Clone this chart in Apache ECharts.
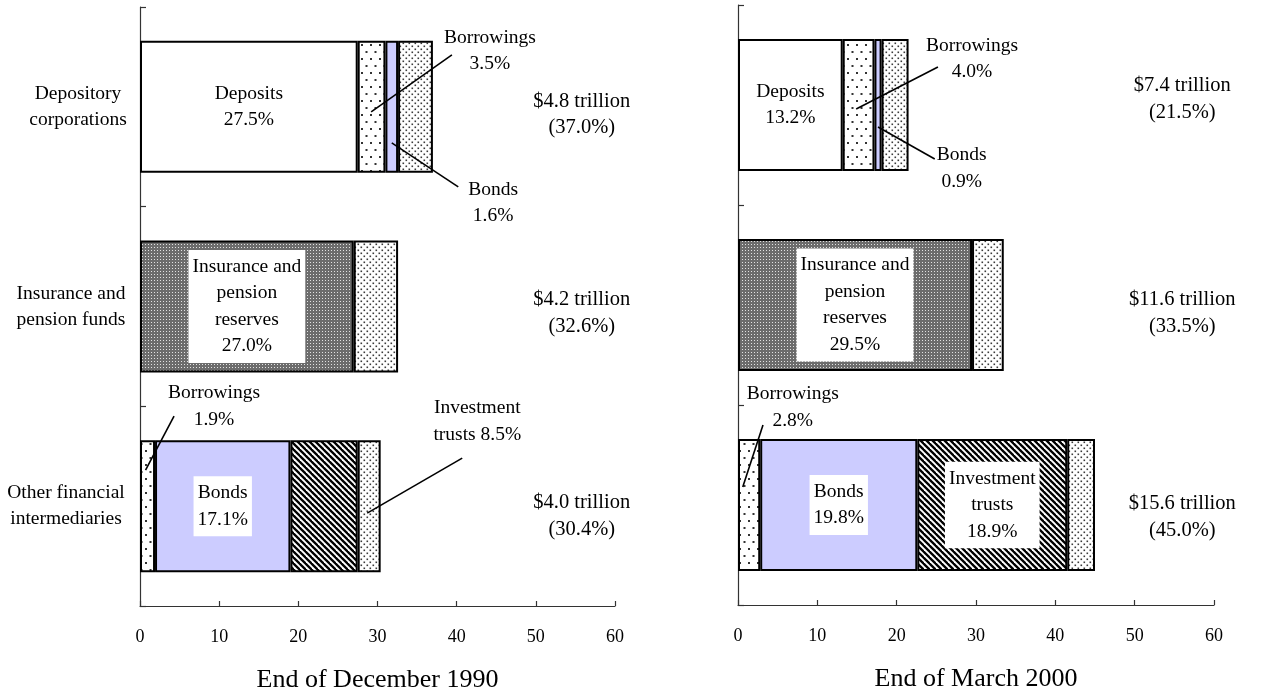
<!DOCTYPE html>
<html>
<head>
<meta charset="utf-8">
<script src="https://cdn.jsdelivr.net/npm/echarts@6/dist/echarts.min.js"></script>
<style>
  html, body { margin: 0; padding: 0; background: #fff; }
  #chart { width: 1274px; height: 698px; }
</style>
</head>
<body>
<div id="chart"></div>
<script>
// ---- data: share of household financial liabilities (% of total) ----
const categories = ['Depository\ncorporations', 'Insurance and\npension funds', 'Other financial\nintermediaries'];
const xTicks = [0, 10, 20, 30, 40, 50, 60];

const deposits1990    = [27.5, null, null];
const insurance1990   = [null, 27.0, null];
const borrowings1990  = [3.5, null, 1.9];
const bonds1990       = [1.6, null, 17.1];
const trusts1990      = [null, null, 8.5];
const others1990      = [4.4, 5.6, 2.9];
const trillion1990    = [4.8, 4.2, 4.0];
const share1990       = [37.0, 32.6, 30.4];

const deposits2000    = [13.2, null, null];
const insurance2000   = [null, 29.5, null];
const borrowings2000  = [4.0, null, 2.8];
const bonds2000       = [0.9, null, 19.8];
const trusts2000      = [null, null, 18.9];
const others2000      = [3.4, 4.0, 3.5];
const trillion2000    = [7.4, 11.6, 15.6];
const share2000       = [21.5, 33.5, 45.0];

const periodTitles = ['End of December 1990', 'End of March 2000'];

// ---- fill patterns ----
function makePattern(w, h, draw) {
  const c = document.createElement('canvas');
  c.width = w; c.height = h;
  const g = c.getContext('2d');
  draw(g, w, h);
  return { image: c, repeat: 'repeat' };
}
const sparseDots = makePattern(9, 14, (g, w, h) => {
  g.fillStyle = '#fff'; g.fillRect(0, 0, w, h);
  g.fillStyle = '#333';
  g.fillRect(1, 2, 2, 2);
  g.fillRect(5.5, 9, 2, 2);
});
const denseDots = makePattern(6, 6, (g, w, h) => {
  g.fillStyle = '#fff'; g.fillRect(0, 0, w, h);
  g.fillStyle = '#3a3a3a';
  g.fillRect(0.5, 0.5, 1.6, 1.6);
  g.fillRect(3.5, 3.5, 1.6, 1.6);
});
const checker = makePattern(3, 3, (g, w, h) => {
  g.fillStyle = '#6c6c6c'; g.fillRect(0, 0, w, h);
  g.fillStyle = '#e2e2e2';
  g.fillRect(1, 1, 1, 1);
});
const stripes = makePattern(6, 6, (g, w, h) => {
  g.fillStyle = '#fff'; g.fillRect(0, 0, w, h);
  g.strokeStyle = '#000'; g.lineWidth = 2.3;
  for (const x0 of [-6, 0, 6]) {
    g.beginPath(); g.moveTo(x0 - 1, -1); g.lineTo(x0 + 7, 7); g.stroke();
  }
});

const FONT = "'Liberation Serif', 'Times New Roman', serif";

// ---- segment definitions (stacking order left to right) ----
function segmentDefs(d) {
  return [
    { name: 'Deposits', key: 'deposits', data: d.deposits, fill: '#ffffff', inner: 'Deposits' },
    { name: 'Insurance and pension reserves', key: 'insurance', data: d.insurance, fill: checker, inner: 'Insurance and\npension\nreserves' },
    { name: 'Borrowings', key: 'borrowings', data: d.borrowings, fill: sparseDots, inner: 'Borrowings' },
    { name: 'Bonds', key: 'bonds', data: d.bonds, fill: '#ccccff', inner: 'Bonds' },
    { name: 'Investment trusts', key: 'trusts', data: d.trusts, fill: stripes, inner: 'Investment\ntrusts' },
    { name: 'Others', key: 'others', data: d.others, fill: denseDots, inner: '' }
  ];
}

const panels = [
  {
    data: { deposits: deposits1990, insurance: insurance1990, borrowings: borrowings1990, bonds: bonds1990, trusts: trusts1990, others: others1990 },
    trillion: trillion1990, share: share1990,
    inside: [['deposits', 0], ['insurance', 1], ['bonds', 2]],
    callouts: [
      { key: 'borrowings', cat: 0, head: 'Borrowings\n', at: [29.2, 5], to: [39.4, -52], txt: [44.2, -56] },
      { key: 'bonds', cat: 0, head: 'Bonds\n', at: [31.8, 36], to: [40.2, 80], txt: [44.6, 96] },
      { key: 'borrowings', cat: 2, head: 'Borrowings\n', at: [0.7, -36], to: [4.3, -90], txt: [9.35, -100] },
      { key: 'trusts', cat: 2, head: 'Investment\ntrusts ', at: [28.7, 7], to: [40.7, -48], txt: [42.6, -85] }
    ],
    totalAt: [55.8, [8, 6.5, 10]]
  },
  {
    data: { deposits: deposits2000, insurance: insurance2000, borrowings: borrowings2000, bonds: bonds2000, trusts: trusts2000, others: others2000 },
    trillion: trillion2000, share: share2000,
    inside: [['deposits', 0], ['insurance', 1], ['bonds', 2], ['trusts', 2]],
    callouts: [
      { key: 'borrowings', cat: 0, head: 'Borrowings\n', at: [14.9, 4], to: [25.2, -38], txt: [29.5, -46] },
      { key: 'bonds', cat: 0, head: 'Bonds\n', at: [17.65, 22], to: [24.8, 54], txt: [28.2, 63.5] },
      { key: 'borrowings', cat: 2, head: 'Borrowings\n', at: [0.6, -18], to: [3.15, -80], txt: [6.9, -97.5] }
    ],
    totalAt: [56, [-6, 8, 12]]
  }
];

const grids = [
  { left: 140, top: 7, width: 475, height: 600 },
  { left: 738, top: 5, width: 476, height: 600 }
];

const pct = v => v.toFixed(1) + '%';

const series = [];
panels.forEach((p, gi) => {
  segmentDefs(p.data).forEach(seg => {
    series.push({
      type: 'bar',
      name: seg.name,
      xAxisIndex: gi,
      yAxisIndex: gi,
      stack: 'panel' + gi,
      barWidth: 132,
      silent: true,
      itemStyle: { color: seg.fill, borderColor: '#000', borderWidth: 2 },
      data: seg.data.map((v, ci) => {
        const showInside = p.inside.some(([k, c]) => k === seg.key && c === ci);
        return {
          value: v,
          label: {
            show: showInside && v != null,
            position: 'inside',
            formatter: () => seg.inner + '\n' + pct(v),
            color: '#000',
            fontFamily: FONT,
            fontSize: 19.5,
            lineHeight: 26.5,
            backgroundColor: '#fff',
            padding: [4, 4, 3, 4]
          }
        };
      })
    });
  });
});

const labelWidths = [96, 110, 120];

const option = {
  animation: false,
  backgroundColor: '#fff',
  grid: grids,
  xAxis: grids.map((g, gi) => ({
    type: 'value',
    gridIndex: gi,
    min: xTicks[0],
    max: xTicks[xTicks.length - 1],
    interval: 10,
    name: periodTitles[gi],
    nameLocation: 'middle',
    nameGap: 61,
    nameTextStyle: { fontFamily: FONT, fontSize: 26, color: '#000' },
    axisLine: { show: true, lineStyle: { color: '#333', width: 1.2 } },
    axisTick: { show: true, inside: true, length: 5, lineStyle: { color: '#333', width: 1.2 } },
    splitLine: { show: false },
    axisLabel: { fontFamily: FONT, fontSize: 18, color: '#000', margin: 22 }
  })),
  yAxis: grids.map((g, gi) => ({
    type: 'category',
    gridIndex: gi,
    inverse: true,
    data: categories,
    axisLine: { show: true, lineStyle: { color: '#333', width: 1.2 } },
    axisTick: { show: true, inside: true, length: 6, lineStyle: { color: '#333', width: 1.2 } },
    splitLine: { show: false },
    axisLabel: gi === 0 ? {
      show: true,
      margin: 14,
      formatter: (v, i) => v.split('\n').map(l => `{c${i}|${l}}`).join('\n'),
      rich: Object.fromEntries(labelWidths.map((w, i) => ['c' + i, {
        width: w, align: 'center', fontFamily: FONT, fontSize: 19.5, lineHeight: 26, color: '#000'
      }]))
    } : { show: false }
  })),
  series
};

const chart = echarts.init(document.getElementById('chart'), null, { renderer: 'canvas' });
chart.setOption(option);

// ---- callouts, leader lines and totals placed through the axes ----
function toPx(gi, xVal, cat, dy) {
  const pt = chart.convertToPixel({ gridIndex: gi }, [xVal, cat]);
  return [pt[0], pt[1] + dy];
}
const elements = [];
panels.forEach((p, gi) => {
  p.callouts.forEach(c => {
    const v = p.data[c.key][c.cat];
    const a = toPx(gi, c.at[0], c.cat, c.at[1]);
    const b = toPx(gi, c.to[0], c.cat, c.to[1]);
    const t = toPx(gi, c.txt[0], c.cat, c.txt[1]);
    elements.push({
      type: 'line', z: 100, silent: true,
      shape: { x1: a[0], y1: a[1], x2: b[0], y2: b[1] },
      style: { stroke: '#000', lineWidth: 1.6 }
    });
    elements.push({
      type: 'text', z: 100, silent: true, x: t[0], y: t[1],
      style: {
        text: c.head + pct(v), fill: '#000', font: `19.5px ${FONT}`,
        align: 'center', verticalAlign: 'middle', lineHeight: 26.5
      }
    });
  });
  p.trillion.forEach((tr, ci) => {
    const t = toPx(gi, p.totalAt[0], ci, p.totalAt[1][ci]);
    elements.push({
      type: 'text', z: 100, silent: true, x: t[0], y: t[1],
      style: {
        text: '$' + tr.toFixed(1) + ' trillion\n(' + pct(p.share[ci]) + ')',
        fill: '#000', font: `20.5px ${FONT}`,
        align: 'center', verticalAlign: 'middle', lineHeight: 26.5
      }
    });
  });
});
chart.setOption({ graphic: { elements } });
</script>
</body>
</html>
